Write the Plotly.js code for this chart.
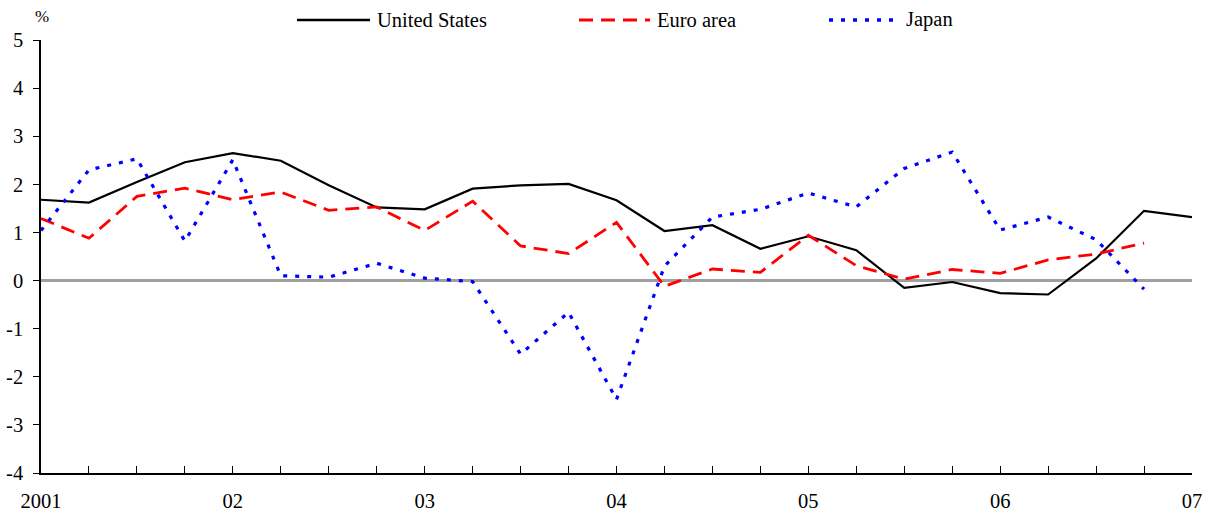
<!DOCTYPE html>
<html>
<head>
<meta charset="utf-8">
<script src="https://cdn.plot.ly/plotly-3.0.1.min.js"></script>
<style>
  html, body { margin: 0; padding: 0; background: #fff; }
  #chart { width: 1210px; height: 516px; }
</style>
</head>
<body>
<div id="chart"></div>
<script>
// Quarterly observations, 2001Q1 .. 2007Q1
const quarters = [2001.00, 2001.25, 2001.50, 2001.75,
                  2002.00, 2002.25, 2002.50, 2002.75,
                  2003.00, 2003.25, 2003.50, 2003.75,
                  2004.00, 2004.25, 2004.50, 2004.75,
                  2005.00, 2005.25, 2005.50, 2005.75,
                  2006.00, 2006.25, 2006.50, 2006.75,
                  2007.00];

const unitedStates = [1.68, 1.62, 2.05, 2.46, 2.65, 2.49, 1.98, 1.52,
                      1.48, 1.91, 1.98, 2.01, 1.67, 1.03, 1.15, 0.66,
                      0.92, 0.63, -0.15, -0.03, -0.26, -0.29, 0.46, 1.45,
                      1.32];

const euroArea = [1.29, 0.88, 1.75, 1.92, 1.68, 1.84, 1.46, 1.53,
                  1.04, 1.65, 0.72, 0.56, 1.21, -0.12, 0.24, 0.17,
                  0.94, 0.31, 0.03, 0.23, 0.15, 0.43, 0.55, 0.78];

const japan = [1.04, 2.30, 2.53, 0.82, 2.51, 0.10, 0.07, 0.36,
               0.05, -0.02, -1.53, -0.66, -2.47, 0.30, 1.32, 1.48,
               1.82, 1.53, 2.33, 2.67, 1.05, 1.32, 0.85, -0.18];

const seriesNames = ["United States", "Euro area", "Japan"];

// Axis ticks: every quarter, labels only at year starts
const tickValues = quarters;
const tickLabels = ["2001", "", "", "", "02", "", "", "", "03", "", "", "",
                    "04", "", "", "", "05", "", "", "", "06", "", "", "", "07"];
const yTickValues = [-4, -3, -2, -1, 0, 1, 2, 3, 4, 5];
const yTickLabels = ["-4", "-3", "-2", "-1", "0", "1", "2", "3", "4", "5"];

const FONT = "Liberation Serif";
const FS = 20.5;
const W = 1210, H = 516;
const M = {l: 41, r: 18, t: 40, b: 43};
const pw = W - M.l - M.r, ph = H - M.t - M.b;
const px = x => (x - M.l) / pw;
const py = y => (H - M.b - y) / ph;

const styles = [
  {color: "#000000", width: 2.2, dash: "solid"},
  {color: "#ff0000", width: 2.8, dash: "14px,8px"},
  {color: "#0000ff", width: 3.2, dash: "4px,8px"}
];
const values = [unitedStates, euroArea, japan];

const traces = values.map((v, i) => ({
  x: quarters.slice(0, v.length),
  y: v,
  name: seriesNames[i],
  type: "scatter",
  mode: "lines",
  line: {color: styles[i].color, width: styles[i].width, dash: styles[i].dash},
  showlegend: false,
  hoverinfo: "x+y+name"
}));

// custom legend (line samples + labels) placed as in the reference
const legendPos = [
  {x0: 297, x1: 370, tx: 375},
  {x0: 579, x1: 650, tx: 655},
  {x0: 829, x1: 893, tx: 904}
];
const legendY = 20;
const shapes = legendPos.map((p, i) => ({
  type: "line", xref: "paper", yref: "paper",
  x0: px(p.x0), x1: px(p.x1), y0: py(legendY), y1: py(legendY),
  line: {color: styles[i].color, width: styles[i].width + 0.4, dash: styles[i].dash}
}));
const annotations = legendPos.map((p, i) => ({
  xref: "paper", yref: "paper", x: px(p.tx), y: py(legendY),
  xanchor: "left", yanchor: "middle", showarrow: false,
  text: seriesNames[i], font: {family: FONT, size: FS, color: "#000"}
}));
annotations.push({
  xref: "paper", yref: "paper", x: px(42), y: py(17),
  xanchor: "center", yanchor: "middle", showarrow: false,
  text: "%", font: {family: FONT, size: 17, color: "#000"}
});

const layout = {
  width: W, height: H,
  margin: M,
  paper_bgcolor: "#fff", plot_bgcolor: "#fff",
  font: {family: FONT, size: FS, color: "#000"},
  xaxis: {
    range: [2001, 2007],
    tickmode: "array", tickvals: tickValues, ticktext: tickLabels,
    ticks: "inside", ticklen: 7, tickwidth: 1, tickcolor: "#000",
    showline: true, linecolor: "#000", linewidth: 1.5,
    showgrid: false, zeroline: false,
    ticklabelstandoff: 9,
    tickfont: {family: FONT, size: FS, color: "#000"},
    fixedrange: true
  },
  yaxis: {
    range: [-4, 5],
    tickmode: "array", tickvals: yTickValues, ticktext: yTickLabels,
    ticks: "outside", ticklen: 6, tickwidth: 1, tickcolor: "#000",
    showline: true, linecolor: "#000", linewidth: 1.5,
    showgrid: false,
    zeroline: true, zerolinecolor: "#a0a0a0", zerolinewidth: 2.5,
    ticklabelstandoff: 6,
    tickfont: {family: FONT, size: FS, color: "#000"},
    fixedrange: true
  },
  shapes: shapes,
  annotations: annotations,
  showlegend: false
};

Plotly.newPlot("chart", traces, layout, {displayModeBar: false});
</script>
</body>
</html>
